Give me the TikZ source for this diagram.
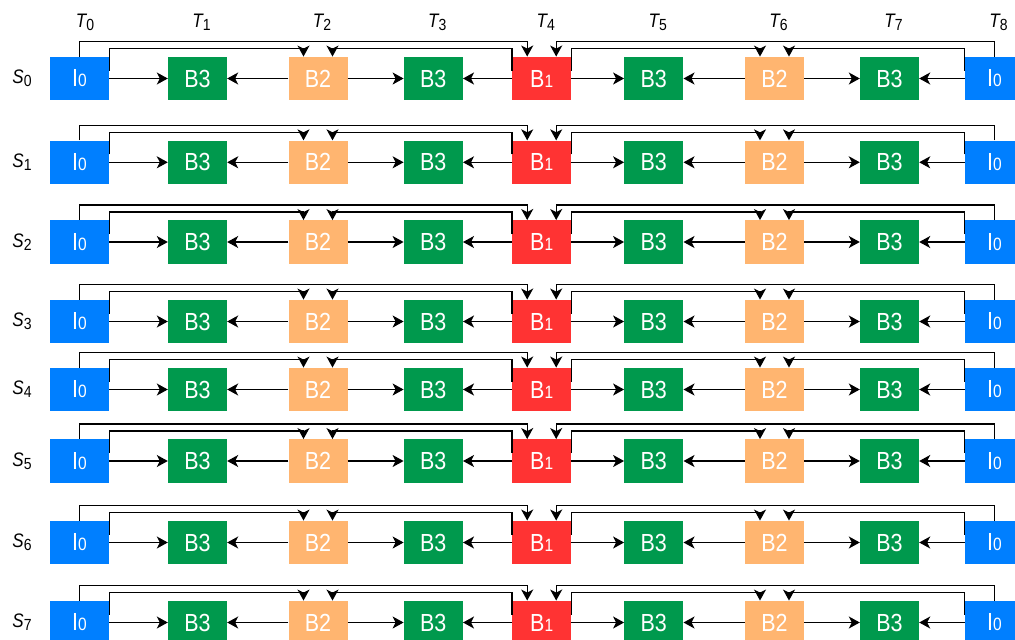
\documentclass[tikz,border=0pt]{standalone}
\usepackage{fontspec}
\usepackage{graphicx}
\setmainfont{Liberation Sans}
\usetikzlibrary{arrows.meta}
\definecolor{cI}{HTML}{007FFF}
\definecolor{cA}{HTML}{FF3333}
\definecolor{cB}{HTML}{FFB570}
\definecolor{cC}{HTML}{00994D}
\newcommand{\vs}[1]{\scalebox{1}[1.15]{#1}}
\newcommand{\lbl}[2]{\vs{{\itshape #1}\raisebox{-2.5pt}{\fontsize{14}{14}\selectfont #2}}}
\newcommand{\sm}[1]{{\fontsize{15.5}{15.5}\selectfont #1}}
\begin{document}
\begin{tikzpicture}[x=1pt,y=-1pt,
  blk/.style={minimum width=59pt,minimum height=43.5pt,inner sep=0pt,text=white,
    font=\fontsize{21.5}{21.5}\selectfont},
  arr/.style={line width=1.3pt,-{Stealth[length=11pt,width=12pt,inset=3pt]}},
  lab/.style={font=\fontsize{17}{17}\selectfont,inner sep=0pt}]
\useasboundingbox (0,0) rectangle (1015,640);
\def\colx{{79.5,197.5,318,433.3,541.7,653.8,774.5,889.5,994.5}}
\def\rowy{{78.5,162.3,242,321.5,389.5,461,542.5,622.5}}
% column labels
\node[lab] (t0) at (85,22) {\lbl{T}{0}};
\foreach \c in {1,...,8}{
  \pgfmathsetmacro{\xx}{\colx[\c]+4}
  \node[lab] (t\c) at (\xx,22) {\lbl{T}{\c}};
}
\foreach \r in {0,...,7}{
  \pgfmathsetmacro{\yy}{\rowy[\r]}
  \node[lab] (s\r) at (22,\yy) {\lbl{S}{\r}};
  \node[blk,fill=cI] (n\r c0) at ({\colx[0]},\yy) {\vs{I\sm{0}}};
  \node[blk,fill=cC] (n\r c1) at ({\colx[1]},\yy) {\vs{B3}};
  \node[blk,fill=cB] (n\r c2) at ({\colx[2]},\yy) {\vs{B2}};
  \node[blk,fill=cC] (n\r c3) at ({\colx[3]},\yy) {\vs{B3}};
  \node[blk,fill=cA] (n\r c4) at ({\colx[4]},\yy) {\vs{B\sm{1}}};
  \node[blk,fill=cC] (n\r c5) at ({\colx[5]},\yy) {\vs{B3}};
  \node[blk,fill=cB] (n\r c6) at ({\colx[6]},\yy) {\vs{B2}};
  \node[blk,fill=cC] (n\r c7) at ({\colx[7]},\yy) {\vs{B3}};
  \node[blk,fill=cI] (n\r c8) at ({\colx[8]},\yy) {\vs{I\sm{0}}};
  % horizontal connectors
  \draw[arr] (n\r c0.east) -- (n\r c1.west);
  \draw[arr] (n\r c2.west) -- (n\r c1.east);
  \draw[arr] (n\r c2.east) -- (n\r c3.west);
  \draw[arr] (n\r c4.west) -- (n\r c3.east);
  \draw[arr] (n\r c4.east) -- (n\r c5.west);
  \draw[arr] (n\r c6.west) -- (n\r c5.east);
  \draw[arr] (n\r c6.east) -- (n\r c7.west);
  \draw[arr] (n\r c8.west) -- (n\r c7.east);
  % top connectors
  \draw[arr] (n\r c0.north) -- ++(0,-15) -| ([xshift=-14.5pt]n\r c4.north);
  \draw[arr] (n\r c8.north) -- ++(0,-15) -| ([xshift=14.5pt]n\r c4.north);
  \draw[arr] ([yshift=-14pt]n\r c0.north east) -- ++(0,-22) -| ([xshift=-14.5pt]n\r c2.north);
  \draw[arr] ([yshift=-14pt]n\r c4.north west) -- ++(0,-22) -| ([xshift=14.5pt]n\r c2.north);
  \draw[arr] ([yshift=-14pt]n\r c4.north east) -- ++(0,-22) -| ([xshift=-14.5pt]n\r c6.north);
  \draw[arr] ([yshift=-14pt]n\r c8.north west) -- ++(0,-22) -| ([xshift=14.5pt]n\r c6.north);
}
\end{tikzpicture}
\end{document}
